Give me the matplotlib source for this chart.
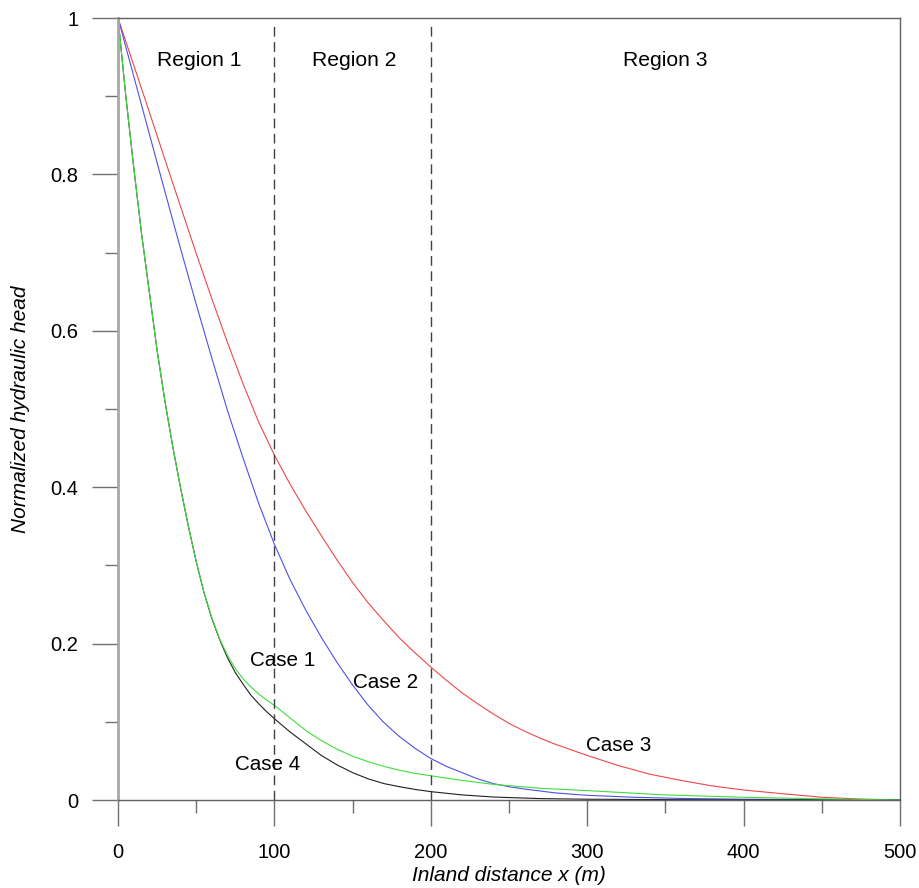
import matplotlib
matplotlib.use("Agg")
import matplotlib.pyplot as plt
from matplotlib.ticker import MultipleLocator, FixedLocator

plt.rcParams['font.family'] = ['Liberation Sans', 'DejaVu Sans']

# head profiles read along the inland distance (m)
x_case3 = [0, 10, 20, 30, 40, 50, 60, 70, 80, 90, 100, 110, 120, 130, 140, 150, 160, 170, 180, 190, 200,
           210, 220, 230, 240, 250, 260, 270, 280, 290, 300, 320, 340, 360, 380, 400, 425, 450, 475, 500]
h_case3 = [1.0, 0.94, 0.88, 0.819, 0.759, 0.699, 0.641, 0.585, 0.532, 0.483, 0.441, 0.404, 0.370, 0.338,
           0.307, 0.278, 0.252, 0.229, 0.207, 0.188, 0.170, 0.153, 0.137, 0.123, 0.110, 0.098, 0.088,
           0.079, 0.071, 0.064, 0.057, 0.044, 0.033, 0.025, 0.018, 0.0128, 0.008, 0.0035, 0.0012, 0.0]

x_case2 = [0, 10, 20, 30, 40, 50, 60, 70, 80, 90, 100, 110, 120, 130, 140, 150, 160, 170, 180, 190, 200,
           210, 220, 230, 240, 250, 260, 280, 300, 330, 360, 400, 450, 500]
h_case2 = [1.0, 0.926, 0.852, 0.778, 0.705, 0.634, 0.565, 0.498, 0.437, 0.379, 0.327, 0.282, 0.243,
           0.208, 0.176, 0.147, 0.121, 0.099, 0.081, 0.066, 0.053, 0.043, 0.035, 0.027, 0.021, 0.017,
           0.014, 0.009, 0.006, 0.0035, 0.002, 0.001, 0.0004, 0.0]

x_case1 = [0, 5, 10, 15, 20, 25, 30, 35, 40, 45, 50, 55, 60, 65, 70, 75, 80, 85, 90, 95, 100, 110, 120,
           130, 140, 150, 160, 170, 180, 190, 200, 220, 240, 270, 300, 350, 400, 450, 500]
h_case1 = [1.0, 0.90, 0.81, 0.725, 0.65, 0.575, 0.51, 0.452, 0.399, 0.35, 0.305, 0.265, 0.233, 0.206,
           0.185, 0.168, 0.155, 0.1445, 0.1355, 0.128, 0.121, 0.105, 0.089, 0.076, 0.065, 0.056, 0.049,
           0.043, 0.038, 0.034, 0.031, 0.025, 0.020, 0.015, 0.012, 0.0065, 0.0035, 0.0015, 0.0]

x_case4 = [0, 5, 10, 15, 20, 25, 30, 35, 40, 45, 50, 55, 60, 65, 70, 75, 80, 85, 90, 95, 100, 110, 120,
           130, 140, 150, 160, 170, 180, 190, 200, 220, 240, 270, 300, 350, 400, 500]
h_case4 = [1.0, 0.90, 0.81, 0.725, 0.65, 0.575, 0.51, 0.452, 0.399, 0.35, 0.305, 0.265, 0.232, 0.205,
           0.182, 0.163, 0.148, 0.134, 0.123, 0.113, 0.104, 0.087, 0.072, 0.057, 0.045, 0.035, 0.027,
           0.021, 0.017, 0.0135, 0.0107, 0.0065, 0.0038, 0.0018, 0.001, 0.0005, 0.0002, 0.0]

region_bounds = [100, 200]
region_names = ["Region 1", "Region 2", "Region 3"]
region_x = [52, 151, 350]

case_names = ["Case 1", "Case 2", "Case 3", "Case 4"]
case_pos = [(105, 0.179), (171, 0.150), (320, 0.070), (95.5, 0.045)]

xticks = [0, 100, 200, 300, 400, 500]
yticks = [0, 0.2, 0.4, 0.6, 0.8, 1]
yticklabels = ["0", "0.2", "0.4", "0.6", "0.8", "1"]

fig = plt.figure(figsize=(9.2, 8.88), dpi=100)
ax = fig.add_axes([118/920, 88/888, 782/920, 782/888])

ax.plot(x_case3, h_case3, color='#ec4848', lw=0.8)
ax.plot(x_case2, h_case2, color='#5050e6', lw=0.8)
ax.plot(x_case4, h_case4, color='#202020', lw=0.8)
ax.plot(x_case1, h_case1, color='#40dd40', lw=0.8)

for xb in region_bounds:
    ax.plot([xb, xb], [0, 0.99], color='#404040', lw=1.0, dashes=(7, 4))

for name, xr in zip(region_names, region_x):
    ax.text(xr, 0.946, name, fontsize=15.2, ha='center', va='center')
for name, (xc, yc) in zip(case_names, case_pos):
    ax.text(xc, yc, name, fontsize=14.9, ha='center', va='center')

ax.set_xlim(0, 500)
ax.set_ylim(0, 1)
ax.xaxis.set_major_locator(FixedLocator(xticks))
ax.xaxis.set_minor_locator(MultipleLocator(50))
ax.yaxis.set_major_locator(FixedLocator(yticks))
ax.yaxis.set_minor_locator(MultipleLocator(0.1))
ax.set_yticklabels(yticklabels)

ax.tick_params(which='major', direction='out', length=18.7, width=1.0, color='#707070',
               labelsize=14.5, pad=10)
ax.tick_params(which='minor', direction='out', length=9.4, width=1.0, color='#707070')
ax.tick_params(axis='x', which='major', pad=12)

for side in ['top', 'right', 'bottom']:
    ax.spines[side].set_color('#606060')
    ax.spines[side].set_linewidth(1.0)
ax.spines['left'].set_color('#a8a8a8')
ax.spines['left'].set_linewidth(2.0)

ax.set_xlabel("Inland distance x (m)", fontsize=15, style='italic', va='center')
ax.xaxis.set_label_coords(0.5, -75/782)
ax.set_ylabel("Normalized hydraulic head", fontsize=15, style='italic', va='center')
ax.yaxis.set_label_coords(-98/782, 0.5)

fig.savefig("out.png", dpi=100)
